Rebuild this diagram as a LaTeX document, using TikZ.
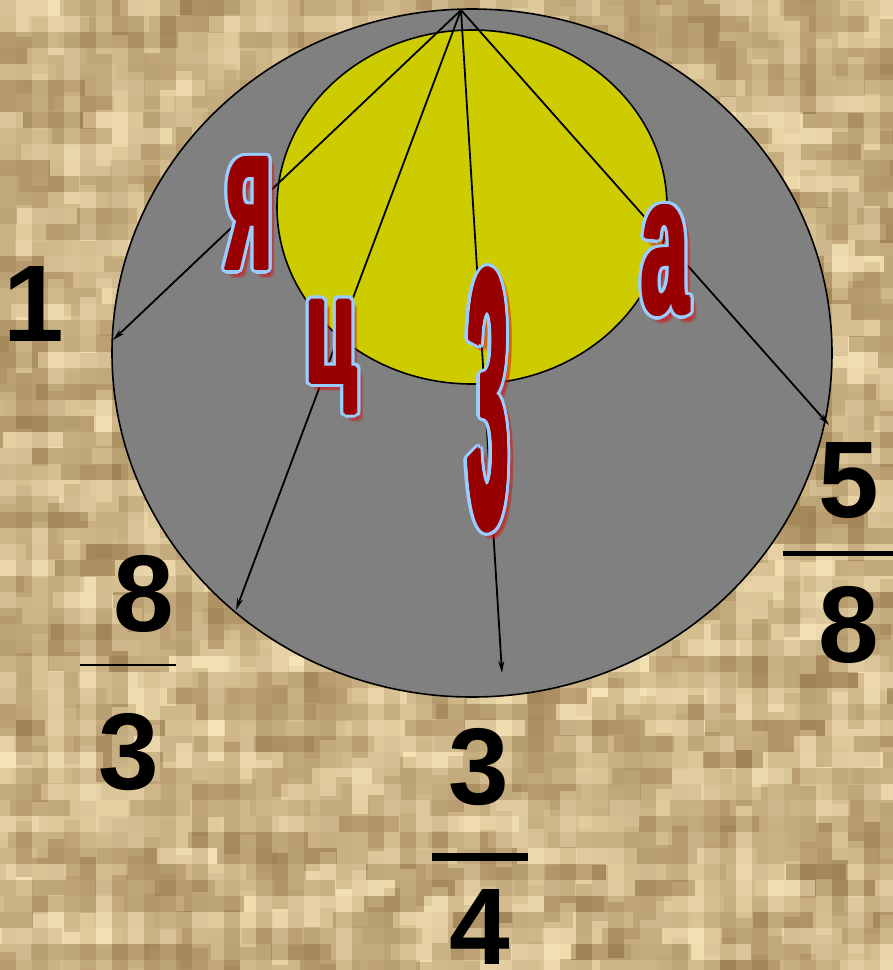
\documentclass[tikz,border=0pt]{standalone}
\usepackage{fontspec}
\usepackage{graphicx}
\setmainfont{Liberation Sans}
\usetikzlibrary{arrows.meta,shapes.geometric}
\definecolor{bgdark}{RGB}{125,92,45}
\definecolor{bglight}{RGB}{248,230,185}
\definecolor{bgmid}{RGB}{210,182,132}
\definecolor{discgray}{RGB}{128,128,128}
\definecolor{sunyellow}{RGB}{204,204,0}
\definecolor{ltrred}{RGB}{153,0,0}
\definecolor{ltrblue}{RGB}{153,204,255}
\definecolor{glowred}{RGB}{215,20,20}
\newcommand\LtrBox[3]{\resizebox*{#1pt}{#2pt}{\bfseries #3}}
\newcommand\BigLtr[6]{%
  \foreach \a in {0,45,...,315}{\path (#2,#3) ++(5,6) ++(\a:3) node[inner sep=0,text=glowred,opacity=0.22] {\LtrBox{#4}{#5}{#6}};}
  \foreach \a in {0,22.5,...,337.5}{\path (#2,#3) ++(\a:5) node[inner sep=0,text=ltrblue] {\LtrBox{#4}{#5}{#6}};}
  \foreach \a in {0,45,...,315}{\path (#2,#3) ++(\a:1.8) node[inner sep=0,text=ltrred] {\LtrBox{#4}{#5}{#6}};}
  \node[inner sep=0,text=ltrred] (#1) at (#2,#3) {\LtrBox{#4}{#5}{#6}};}
\tikzset{
  disc/.style={ellipse,draw=black,line width=1.6pt,inner sep=0},
  conn/.style={line width=1.8pt,-{Stealth[length=12pt,width=6pt]}},
  num/.style={inner sep=0,font=\fontsize{109}{110}\selectfont\bfseries},
}
\begin{document}
\begin{tikzpicture}[x=1pt,y=-1pt]
\useasboundingbox (0,0) rectangle (893,970);
% background texture
\begin{scope}
\clip (0,0) rectangle (893,970);
\fill[bgmid] (0,0) rectangle (893,970);
\pgfmathsetseed{11}
\foreach \r in {0,...,61}{
  \pgfmathtruncatemacro\off{mod(\r*29,60)}
  \foreach \c in {-1,...,15}{
    \pgfmathtruncatemacro\p{25+75*rnd}
    \fill[bglight!\p!bgdark] (\c*60+\off,\r*16) rectangle ++(60,16);
  }}
\foreach \c in {0,...,55}{
  \pgfmathtruncatemacro\off{mod(\c*37,56)}
  \foreach \r in {-1,...,18}{
    \pgfmathtruncatemacro\p{30+70*rnd}
    \fill[bglight!\p!bgdark,opacity=0.45] (\c*16,\r*56+\off) rectangle ++(16,56);
  }}
\end{scope}
% discs
\node[disc,fill=discgray,minimum width=720pt,minimum height=688pt] (outer) at (472,353) {};
\node[disc,fill=sunyellow,minimum width=390pt,minimum height=354pt] (inner) at (472,207) {};
% connectors
\coordinate (apex) at (461,10);
\coordinate (e1) at (113,340);
\coordinate (e2) at (236,610);
\coordinate (e3) at (502,673);
\coordinate (e4) at (829,425);
\draw[conn] (apex) -- (e1);
\draw[conn] (apex) -- (e2);
\draw[conn] (apex) -- (e3);
\draw[conn] (apex) -- (e4);
% letters
\BigLtr{ya}{249.5}{213.5}{46}{111}{я}
\BigLtr{tse}{331}{357}{51}{112}{ц}
\BigLtr{ze}{488}{400}{42}{262}{з}
\BigLtr{a}{665}{260.5}{47}{109}{а}
% numbers
\node[num] (one) at (34,303.5) {1};
\node[num] (na) at (144,594) {8};
\node[num] (da) at (129,752) {3};
\draw[line width=2pt] (80,665) -- (176,665);
\node[num] (nb) at (479,767) {3};
\node[num] (db) at (480,927) {4};
\draw[line width=8pt] (432,857) -- (528,857);
\node[num] (nc) at (849,481) {5};
\node[num] (dc) at (849,625) {8};
\draw[line width=5pt] (783,553) -- (893,553);
\end{tikzpicture}
\end{document}
